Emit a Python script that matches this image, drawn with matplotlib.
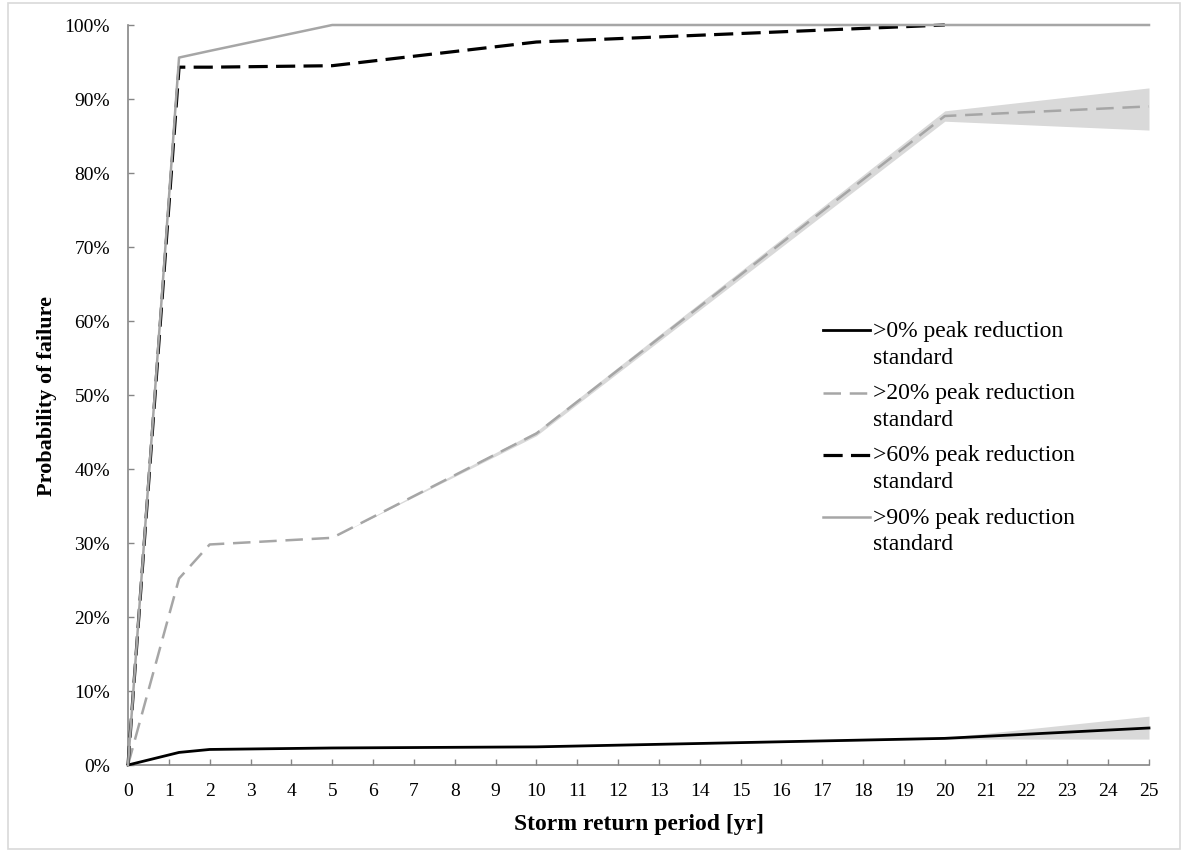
import matplotlib
import matplotlib.pyplot as plt
import numpy as np
from matplotlib.patches import Rectangle
from matplotlib.ticker import PercentFormatter

matplotlib.use('Agg')
plt.rcParams['font.family'] = ['Liberation Serif', 'DejaVu Serif']

# return periods [yr]
period = [0, 1.25, 2, 5, 10, 20, 25]

# probability of failure (fraction)
p_0 = [0, 0.017, 0.021, 0.023, 0.0245, 0.036, 0.050]
p_20 = [0, 0.252, 0.298, 0.307, 0.448, 0.877, 0.890]
p_60 = [0, 0.943, 0.943, 0.945, 0.977, 1.0, np.nan]
p_90 = [0, 0.956, 0.965, 1.0, 1.0, 1.0, 1.0]

# uncertainty bands
p_0_lo = [0, 0.017, 0.021, 0.023, 0.0245, 0.035, 0.035]
p_0_hi = [0, 0.017, 0.021, 0.023, 0.0245, 0.037, 0.066]
p_20_lo = [0, 0.252, 0.298, 0.307, 0.445, 0.870, 0.858]
p_20_hi = [0, 0.252, 0.298, 0.307, 0.451, 0.884, 0.915]

labels = [">0% peak reduction\nstandard", ">20% peak reduction\nstandard",
          ">60% peak reduction\nstandard", ">90% peak reduction\nstandard"]

fig = plt.figure(figsize=(11.82, 8.54), dpi=100)
ax = fig.add_axes([128 / 1182, 1 - 766 / 854, 1021 / 1182, 740 / 854])

ax.fill_between(period, p_0_lo, p_0_hi, color='#d9d9d9', lw=0)
ax.fill_between(period, p_20_lo, p_20_hi, color='#d9d9d9', lw=0)

l90, = ax.plot(period, p_90, color='#a6a6a6', lw=1.8, label=labels[3], clip_on=False, zorder=5)
l60, = ax.plot(period, p_60, color='black', lw=2.3, dashes=(6, 2.6), label=labels[2], clip_on=False, zorder=4)
l20, = ax.plot(period, p_20, color='#a6a6a6', lw=1.8, dashes=(7, 3.5), label=labels[1], clip_on=False, zorder=3)
l0, = ax.plot(period, p_0, color='black', lw=2.0, label=labels[0], clip_on=False, zorder=4)

ax.set_xlim(0, 25)
ax.set_ylim(0, 1)
ax.set_xticks(range(0, 26))
ax.set_yticks([i / 10 for i in range(11)])
ax.yaxis.set_major_formatter(PercentFormatter(1.0, decimals=0))

for s in ['top', 'right']:
    ax.spines[s].set_visible(False)
for s in ['left', 'bottom']:
    ax.spines[s].set_color('#868686')
    ax.spines[s].set_linewidth(1.2)

ax.tick_params(axis='x', direction='in', length=4.5, width=1, color='#868686',
               labelsize=14, pad=12)
ax.tick_params(axis='y', direction='in', length=4.5, width=1, color='#868686',
               labelsize=14, pad=13)

ax.set_xlabel("Storm return period [yr]", fontsize=17, fontweight='bold', labelpad=10)
ax.set_ylabel("Probability of failure", fontsize=16, fontweight='bold', labelpad=5)

leg = ax.legend([l0, l20, l60, l90], labels,
                loc='upper left', bbox_to_anchor=(823 / 1182, 1 - 321 / 854),
                bbox_transform=fig.transFigure, frameon=False, fontsize=17,
                handlelength=2, handletextpad=0.1, labelspacing=0.62,
                borderpad=0, borderaxespad=0)
for t in leg.get_texts():
    t.set_linespacing(1.35)
# put each handle on the first text line
for h in leg.legend_handles:
    h.set_ydata([y + 9.5 for y in h.get_ydata()])

# light frame around the whole figure
fig.patches.append(Rectangle((8 / 1182, 4 / 854), 1172 / 1182, 846 / 854,
                             transform=fig.transFigure, fill=False,
                             edgecolor='#d9d9d9', lw=1.2))

fig.savefig('out.png', dpi=100)
